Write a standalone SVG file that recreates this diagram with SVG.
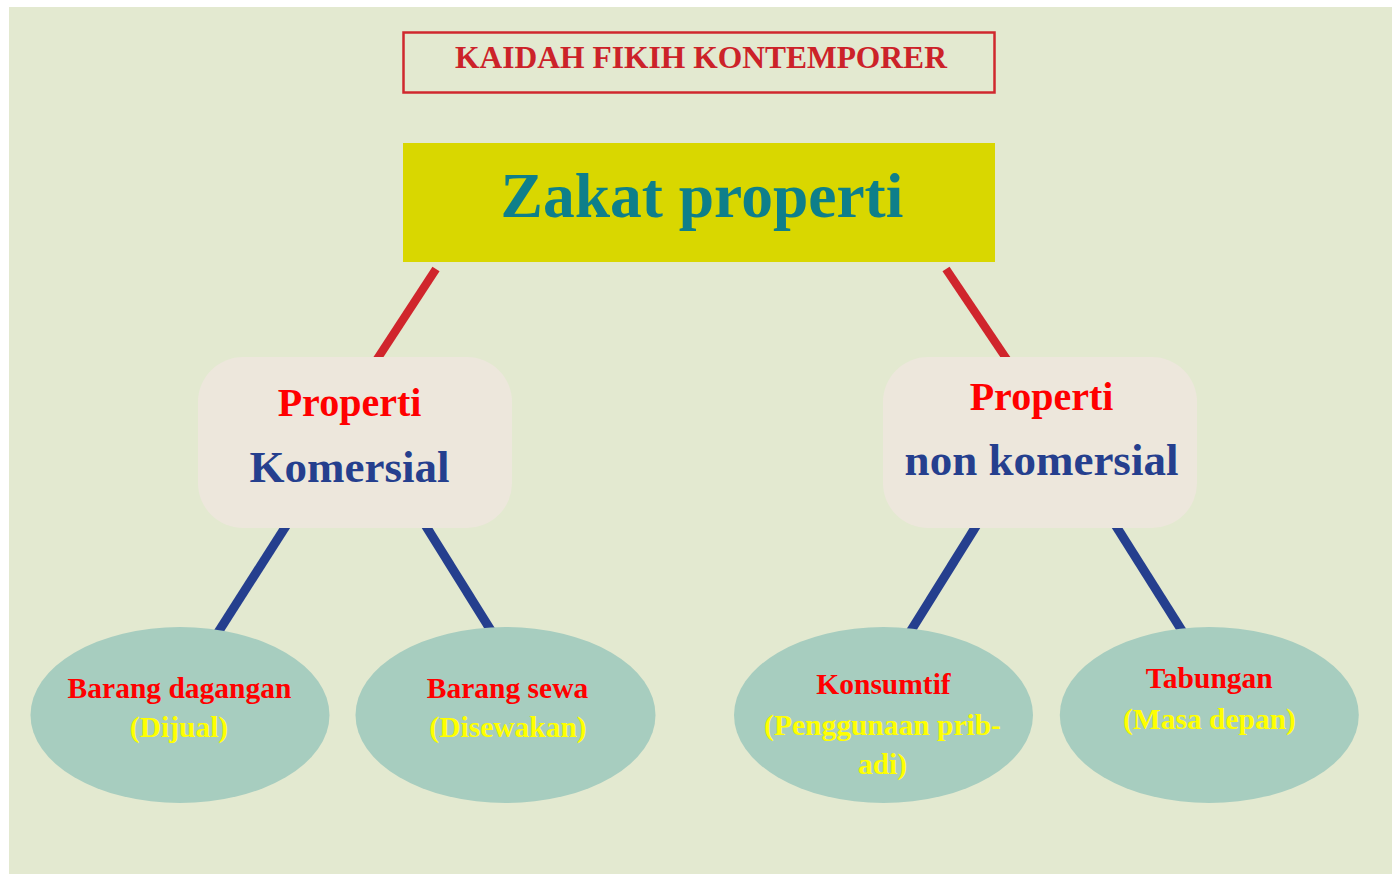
<svg xmlns="http://www.w3.org/2000/svg" width="1392" height="874" viewBox="0 0 1392 874">
<style>
.t{font-family:"Liberation Serif","Times New Roman",serif;font-weight:bold;text-anchor:middle}
.red{fill:#ff0000}
.yel{fill:#ffff00}
.blue{fill:#253f8e}
.ell{fill:#a7cdbf}
.rbox{fill:#ede7dc}
.cr{stroke:#d0252c;stroke-width:8.5;fill:none}
.cb{stroke:#253f8e;stroke-width:9;fill:none}
</style>
<rect x="0" y="0" width="1392" height="874" fill="#ffffff"/>
<rect x="9" y="7" width="1383" height="867" fill="#e3e9d0"/>
<g id="connectors">
<line class="cr" x1="436" y1="269" x2="370" y2="370"/>
<line class="cr" x1="946" y1="269" x2="1014" y2="370"/>
<line class="cb" x1="293" y1="515" x2="210" y2="645"/>
<line class="cb" x1="419" y1="515" x2="500" y2="645"/>
<line class="cb" x1="983" y1="515" x2="902" y2="645"/>
<line class="cb" x1="1109" y1="515" x2="1191" y2="645"/>
</g>
<g id="title">
<rect x="403.5" y="32.5" width="591" height="60" fill="none" stroke="#d0282e" stroke-width="2.5"/>
<text class="t" x="701" y="68" font-size="31.5" fill="#cc2229">KAIDAH FIKIH KONTEMPORER</text>
</g>
<g id="zakat">
<rect x="403" y="143" width="592" height="119" fill="#d9d700"/>
<text class="t" x="702" y="217" font-size="63.5" fill="#0e7f8a">Zakat properti</text>
</g>
<g id="komersial">
<rect class="rbox" x="198" y="357" width="314" height="171" rx="45" ry="45"/>
<text class="t red" x="349.5" y="416" font-size="40">Properti</text>
<text class="t blue" x="349.5" y="481.5" font-size="45">Komersial</text>
</g>
<g id="nonkomersial">
<rect class="rbox" x="883" y="357" width="314" height="171" rx="45" ry="45"/>
<text class="t red" x="1041.5" y="410" font-size="40">Properti</text>
<text class="t blue" x="1041.5" y="475" font-size="45">non komersial</text>
</g>
<g id="dagangan">
<ellipse class="ell" cx="180" cy="715" rx="149.5" ry="88"/>
<text class="t red" x="179.5" y="698" font-size="29.5">Barang dagangan</text>
<text class="t yel" x="179" y="737" font-size="29.5">(Dijual)</text>
</g>
<g id="sewa">
<ellipse class="ell" cx="505.5" cy="715" rx="150" ry="88"/>
<text class="t red" x="507.5" y="698" font-size="29.5">Barang sewa</text>
<text class="t yel" x="508" y="737" font-size="29.5">(Disewakan)</text>
</g>
<g id="konsumtif">
<ellipse class="ell" cx="883.5" cy="715" rx="149.5" ry="88"/>
<text class="t red" x="883.5" y="694" font-size="29.5">Konsumtif</text>
<text class="t yel" x="882.5" y="735" font-size="29.5">(Penggunaan prib-</text>
<text class="t yel" x="882.5" y="773.5" font-size="29.5">adi)</text>
</g>
<g id="tabungan">
<ellipse class="ell" cx="1209.3" cy="715" rx="149.5" ry="88"/>
<text class="t red" x="1209.3" y="688" font-size="29.5">Tabungan</text>
<text class="t yel" x="1209.5" y="728.5" font-size="29.5">(Masa depan)</text>
</g>
</svg>
